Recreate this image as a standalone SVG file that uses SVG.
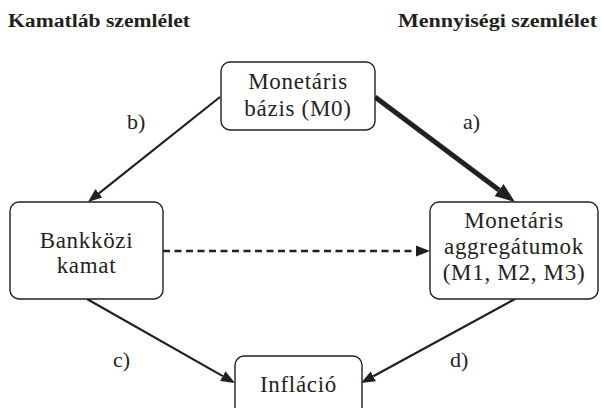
<svg xmlns="http://www.w3.org/2000/svg" width="602" height="408" viewBox="0 0 602 408">
<defs>
<style>
.box{fill:#fff;stroke:#231f20;stroke-width:1.4}
.t{font-family:"Liberation Serif","Times New Roman",serif;font-size:23px;letter-spacing:0.7px;fill:#231f20;text-anchor:middle}
.lbl{font-family:"Liberation Serif","Times New Roman",serif;font-size:22px;fill:#231f20}
.hdr{font-family:"Liberation Serif","Times New Roman",serif;font-size:18px;font-weight:bold;fill:#231f20}
.ln{stroke:#231f20;stroke-width:2.2;fill:none}
.thick{stroke:#231f20;stroke-width:5;fill:none}
.dash{stroke:#231f20;stroke-width:2.6;fill:none;stroke-dasharray:7 4.5}
</style>
<marker id="ah" markerUnits="userSpaceOnUse" viewBox="0 -8 24 16" markerWidth="24" markerHeight="16" refX="0" refY="0" orient="auto">
<path d="M0,-5.5 L14,0 L0,5.5 z" fill="#231f20"/>
</marker>
<marker id="ahb" markerUnits="userSpaceOnUse" viewBox="0 -10 28 20" markerWidth="28" markerHeight="20" refX="0" refY="0" orient="auto">
<path d="M0,-7.5 L20,0 L0,7.5 z" fill="#231f20"/>
</marker>
</defs>
<rect width="602" height="408" fill="#fff"/>
<g id="headers">
<text class="hdr" x="8" y="27" textLength="182" lengthAdjust="spacingAndGlyphs">Kamatláb szemlélet</text>
<text class="hdr" x="398" y="27" textLength="199" lengthAdjust="spacingAndGlyphs">Mennyiségi szemlélet</text>
</g>
<g id="connectors">
<line class="ln" x1="220" y1="97" x2="98.9" y2="193.3" marker-end="url(#ah)"/>
<line class="thick" x1="375" y1="97" x2="499" y2="190" marker-end="url(#ahb)"/>
<line class="dash" x1="163" y1="251" x2="416" y2="251" marker-end="url(#ah)"/>
<line class="ln" x1="87" y1="299" x2="222.8" y2="376.1" marker-end="url(#ah)"/>
<line class="ln" x1="515" y1="299" x2="373.3" y2="376.3" marker-end="url(#ah)"/>
<text class="lbl" x="127" y="129">b)</text>
<text class="lbl" x="463" y="129">a)</text>
<text class="lbl" x="113" y="367">c)</text>
<text class="lbl" x="450" y="367">d)</text>
</g>
<g id="node-m0">
<rect class="box" x="221" y="62" width="154" height="68" rx="9"/>
<text class="t" x="298" y="89">Monetáris</text>
<text class="t" x="298" y="116">bázis (M0)</text>
</g>
<g id="node-bankkozi">
<rect class="box" x="10" y="202" width="153" height="97" rx="9"/>
<text class="t" x="86.5" y="248">Bankközi</text>
<text class="t" x="86.5" y="273">kamat</text>
</g>
<g id="node-aggregatumok">
<rect class="box" x="430" y="202" width="168" height="97" rx="9"/>
<text class="t" x="514" y="228">Monetáris</text>
<text class="t" x="514" y="254">aggregátumok</text>
<text class="t" x="514" y="280">(M1, M2, M3)</text>
</g>
<g id="node-inflacio">
<rect class="box" x="235" y="356" width="127" height="70" rx="9"/>
<text class="t" x="298.5" y="392">Infláció</text>
</g>
</svg>
